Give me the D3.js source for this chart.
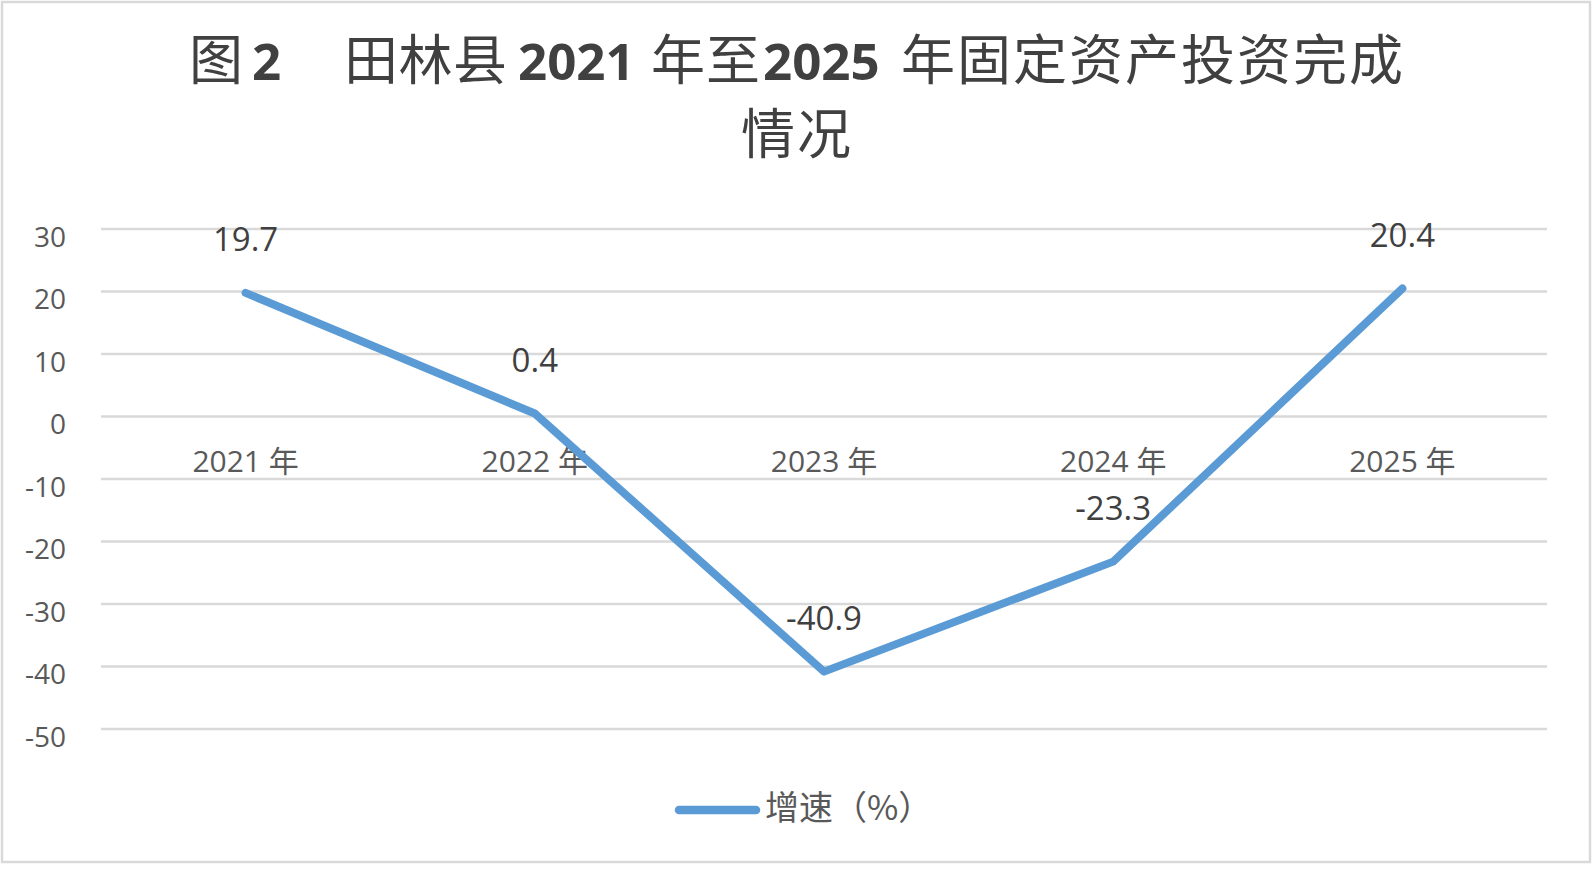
<!DOCTYPE html>
<html>
<head>
<meta charset="utf-8">
<script src="https://cdn.jsdelivr.net/npm/d3@7"></script>
<style>
  body { margin: 0; background: #fff; overflow: hidden; }
</style>
</head>
<body>
<svg id="main-svg"></svg>
<script>
'use strict';

// chart data
const years = ['2021 年', '2022 年', '2023 年', '2024 年', '2025 年'];
const growth = [19.7, 0.4, -40.9, -23.3, 20.4];
const y_ticks = [30, 20, 10, 0, -10, -20, -30, -40, -50];
const series_name = '增速（%）';
const title_parts = ['图', '2', '田林县', '2021', '年至', '2025', '年固定资产投资完成'];
const title_line2 = '情况';

const W = 1596, H = 870;
const font_num = '"Open Sans", "Noto Sans CJK SC", sans-serif';
const font_cjk = '"Noto Sans CJK SC", "Open Sans", sans-serif';

// where each title piece starts and its spacing (digits are bold latin, the rest CJK)
const title_x = [189, 252, 344, 518, 651, 763, 901];
const title_ls = [0, 0, 0.5, 0, 1, 0, 2];

const svg = d3.select('#main-svg')
    .attr('width', W)
    .attr('height', H);

// chart frame
svg.append('rect')
    .attr('x', 2).attr('y', 2)
    .attr('width', 1588).attr('height', 860)
    .attr('fill', '#fff')
    .attr('stroke', '#d9d9d9')
    .attr('stroke-width', 2.5);

const x = d3.scalePoint().domain(years).range([101, 1547]).padding(0.5);
const y = d3.scaleLinear().domain([-50, 30]).range([728.5, 228.5]);

// gridlines
const grid = svg.append('g')
    .attr('transform', 'translate(101,0)')
    .call(d3.axisLeft(y).tickValues(y_ticks).tickSize(-1446).tickFormat(''));
grid.select('.domain').remove();
grid.selectAll('line').attr('stroke', '#d9d9d9').attr('stroke-width', 2.5);

// y tick labels (plain hyphen minus like the original)
const yax = svg.append('g')
    .attr('transform', 'translate(101,0)')
    .call(d3.axisLeft(y).tickValues(y_ticks).tickSize(0).tickPadding(35)
        .tickFormat(d => String(d)));
yax.select('.domain').remove();
yax.selectAll('text')
    .attr('dy', null)
    .attr('y', 17.5)
    .attr('fill', '#595959')
    .style('font-family', font_num)
    .style('font-size', '28px');

// category labels just under the zero line
svg.append('g').selectAll('text')
    .data(years)
    .enter().append('text')
    .attr('x', d => x(d))
    .attr('y', 472)
    .attr('text-anchor', 'middle')
    .attr('fill', '#595959')
    .style('font-family', font_num)
    .style('font-size', '30px')
    .text(d => d);

// the line
const line = d3.line()
    .x((d, i) => x(years[i]))
    .y(d => y(d));

svg.append('path')
    .datum(growth)
    .attr('d', line)
    .attr('fill', 'none')
    .attr('stroke', '#5b9bd5')
    .attr('stroke-width', 8)
    .attr('stroke-linejoin', 'round')
    .attr('stroke-linecap', 'round');

// data labels above points
svg.append('g').selectAll('text')
    .data(growth)
    .enter().append('text')
    .attr('x', (d, i) => x(years[i]))
    .attr('y', d => y(d) - 42)
    .attr('text-anchor', 'middle')
    .attr('fill', '#404040')
    .style('font-family', font_num)
    .style('font-size', '33px')
    .text(d => d);

// title, first line in pieces
const is_num = (s) => /^[0-9]+$/.test(s);
svg.append('g').selectAll('text')
    .data(title_parts)
    .enter().append('text')
    .attr('x', (d, i) => title_x[i])
    .attr('y', 80)
    .attr('fill', '#404040')
    .style('font-family', d => is_num(d) ? font_num : font_cjk)
    .style('font-size', d => is_num(d) ? '51px' : '54px')
    .style('font-weight', d => is_num(d) ? 'bold' : 'normal')
    .style('letter-spacing', (d, i) => title_ls[i] + 'px')
    .text(d => d);

svg.append('text')
    .attr('x', 741)
    .attr('y', 154)
    .attr('fill', '#404040')
    .style('font-family', font_cjk)
    .style('font-size', '54px')
    .style('letter-spacing', '2px')
    .text(title_line2);

// legend
svg.append('line')
    .attr('x1', 679).attr('x2', 756)
    .attr('y1', 810).attr('y2', 810)
    .attr('stroke', '#5b9bd5')
    .attr('stroke-width', 8.5)
    .attr('stroke-linecap', 'round');

svg.append('text')
    .attr('x', 765)
    .attr('y', 820)
    .attr('fill', '#595959')
    .style('font-family', font_cjk)
    .style('font-size', '34px')
    .text(series_name);
</script>
</body>
</html>
